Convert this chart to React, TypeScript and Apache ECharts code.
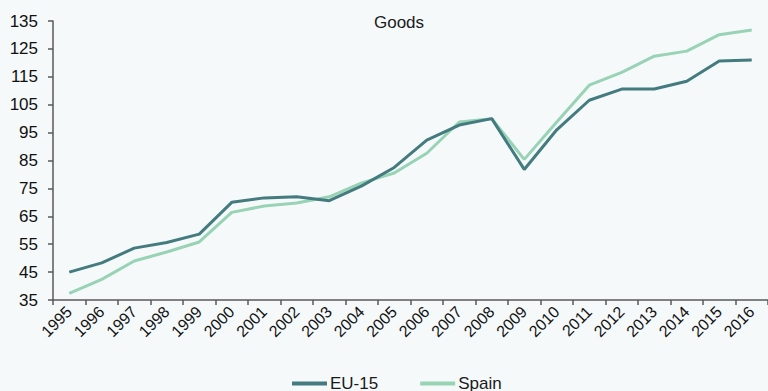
import React, { useEffect, useRef } from "react";
import * as echarts from "echarts";

const years = ["1995","1996","1997","1998","1999","2000","2001","2002","2003","2004","2005","2006","2007","2008","2009","2010","2011","2012","2013","2014","2015","2016"];
const eu15 = [45.0, 48.3, 53.6, 55.6, 58.6, 70.0, 71.6, 72.0, 70.6, 75.9, 82.5, 92.3, 97.7, 100.0, 81.8, 96.0, 106.6, 110.6, 110.6, 113.4, 120.7, 121.0];
const spain = [37.4, 42.4, 49.0, 52.2, 55.8, 66.4, 68.7, 69.8, 72.0, 77.0, 80.5, 87.6, 98.8, 100.0, 85.4, 98.8, 112.0, 116.6, 122.4, 124.2, 130.1, 131.8];
const yTicks = { min: 35, max: 135, step: 10 };
const titleText = "Goods";
const seriesNames = ["EU-15", "Spain"];

const FONT = "'Liberation Sans', Arial, sans-serif";

export default function App() {
  const ref = useRef<HTMLDivElement>(null);
  useEffect(() => {
    document.body.style.margin = "0";
    const chart = echarts.init(ref.current!, null, { renderer: "svg" });
    chart.setOption({
      animation: false,
      backgroundColor: "#f5f9fa",
      textStyle: { fontFamily: FONT },
      graphic: [
        {
          type: "text",
          x: 399,
          y: 22,
          style: {
            text: titleText,
            fontSize: 17,
            fontFamily: FONT,
            fill: "#1a1a1a",
            textAlign: "center",
            textVerticalAlign: "middle",
          },
        },
      ],
      legend: {
        left: 292,
        top: 375,
        padding: 0,
        icon: "rect",
        itemWidth: 35,
        itemHeight: 4,
        itemGap: 42,
        textStyle: { fontSize: 17, color: "#1a1a1a", fontFamily: FONT, padding: [0, 0, 0, -2] },
        data: seriesNames,
      },
      grid: { left: 53, top: 21, width: 719, height: 279 },
      xAxis: {
        type: "category",
        data: years,
        boundaryGap: true,
        axisLine: { lineStyle: { color: "#595959", width: 1.5 } },
        axisTick: { show: true, length: 5, lineStyle: { color: "#595959", width: 1.5 } },
        axisLabel: { rotate: 45, fontSize: 16, color: "#111", margin: 9, interval: 0, fontFamily: FONT },
      },
      yAxis: {
        type: "value",
        min: yTicks.min,
        max: yTicks.max,
        interval: yTicks.step,
        splitLine: { show: false },
        axisLine: { show: true, lineStyle: { color: "#595959", width: 1.5 } },
        axisTick: { show: true, length: 5, lineStyle: { color: "#595959", width: 1.5 } },
        axisLabel: { fontSize: 17, color: "#111", margin: 15, fontFamily: FONT },
      },
      series: [
        {
          name: seriesNames[0],
          type: "line",
          data: eu15,
          symbol: "none",
          lineStyle: { width: 3, color: "#437b7f" },
          itemStyle: { color: "#437b7f" },
          z: 3,
        },
        {
          name: seriesNames[1],
          type: "line",
          data: spain,
          symbol: "none",
          lineStyle: { width: 3, color: "#98d3b6" },
          itemStyle: { color: "#98d3b6" },
          z: 2,
        },
      ],
    });
    return () => chart.dispose();
  }, []);
  return <div ref={ref} style={{ width: 768, height: 391 }} />;
}
